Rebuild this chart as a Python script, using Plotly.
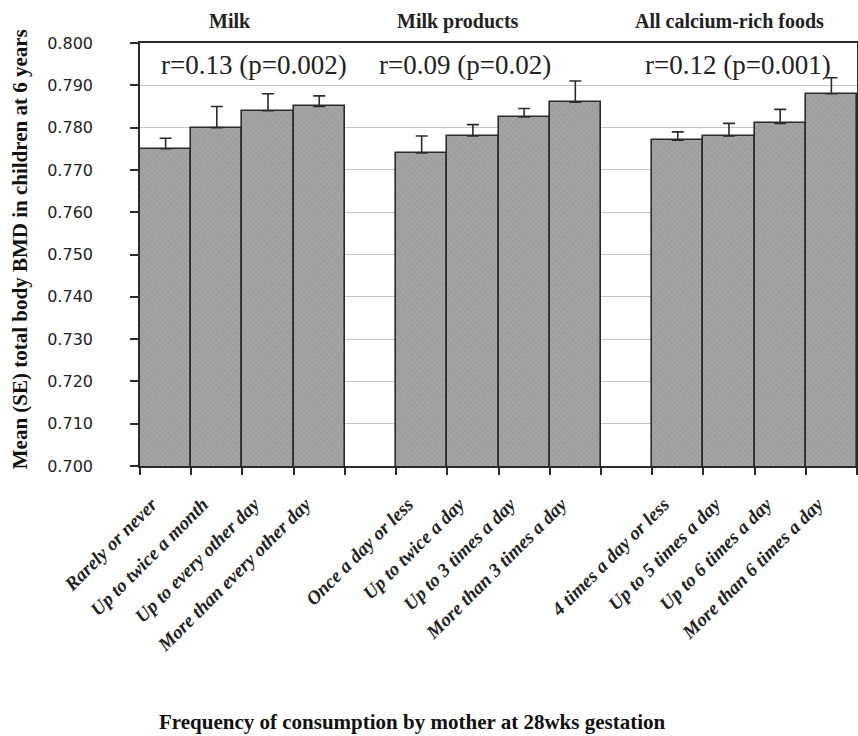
import plotly.graph_objects as go

# ---- data ----
milk_labels = ["Rarely or never", "Up to twice a month", "Up to every other day", "More than every other day"]
milk_means = [0.775, 0.780, 0.784, 0.785]
milk_se = [0.0025, 0.005, 0.004, 0.0025]

prod_labels = ["Once a day or less", "Up to twice a day", "Up to 3 times a day", "More than 3 times a day"]
prod_means = [0.774, 0.778, 0.7825, 0.786]
prod_se = [0.004, 0.0027, 0.002, 0.005]

calc_labels = ["4 times a day or less", "Up to 5 times a day", "Up to 6 times a day", "More than 6 times a day"]
calc_means = [0.777, 0.778, 0.781, 0.788]
calc_se = [0.002, 0.003, 0.0033, 0.0038]

group_titles = ["Milk", "Milk products", "All calcium-rich foods"]
r_texts = ["r=0.13 (p=0.002)", "r=0.09 (p=0.02)", "r=0.12 (p=0.001)"]

y_ticks = [0.700, 0.710, 0.720, 0.730, 0.740, 0.750, 0.760, 0.770, 0.780, 0.790, 0.800]

# blank spacer categories between groups
x_cats = milk_labels + [" "] + prod_labels + ["  "] + calc_labels
y_vals = milk_means + [None] + prod_means + [None] + calc_means
err_vals = milk_se + [None] + prod_se + [None] + calc_se

SERIF = "Liberation Serif"

fig = go.Figure()
fig.add_trace(go.Bar(
    x=x_cats, y=y_vals,
    marker=dict(
        color="#9c9c9c",
        line=dict(color="#2a2a2a", width=1.6),
        pattern=dict(shape="x", fgcolor="#7d7d7d", bgcolor="#a4a4a4", size=4, solidity=0.25),
    ),
    error_y=dict(type="data", symmetric=False, array=err_vals,
                 arrayminus=[0 if v is not None else None for v in err_vals],
                 color="#2a2a2a", thickness=1.6, width=6),
    showlegend=False,
    hoverinfo="skip",
))

fig.update_layout(
    width=858, height=736,
    margin=dict(l=140, r=1, t=43, b=270),
    paper_bgcolor="white", plot_bgcolor="white",
    bargap=0,
    xaxis=dict(
        type="category", categoryorder="array", categoryarray=x_cats,
        tickson="boundaries", ticks="outside", ticklen=7, tickcolor="#2a2a2a", tickwidth=1.5,
        tickangle=-45, ticklabelstandoff=18, ticklabelshift=-14,
        tickfont=dict(family=SERIF, size=19, color="#222", style="italic", weight="bold"),
        showline=True, linecolor="#2a2a2a", linewidth=1.6, mirror=True,
        showgrid=False, automargin=False,
    ),
    yaxis=dict(
        range=[0.700, 0.800], tickvals=y_ticks, tickformat=".3f",
        ticks="outside", ticklen=8, tickcolor="#2a2a2a", tickwidth=1.5,
        ticklabelstandoff=34,
        tickfont=dict(family="DejaVu Sans", size=16, color="#222"),
        showline=True, linecolor="#2a2a2a", linewidth=1.6, mirror=True,
        showgrid=True, gridcolor="#c4c4c4", gridwidth=1,
        zeroline=False, automargin=False,
    ),
)

# group titles above the plot
title_pos = [1.26, 5.71, 11.02]
for t, xp in zip(group_titles, title_pos):
    fig.add_annotation(text=t, x=xp, xref="x", y=1.052, yref="paper", showarrow=False,
                       xanchor="center", yanchor="middle",
                       font=dict(family=SERIF, size=20, color="#222", weight="bold"))

# correlation text
r_pos = [1.73, 5.85, 11.18]
for t, xp in zip(r_texts, r_pos):
    fig.add_annotation(text=t, x=xp, xref="x", y=0.947, yref="paper", showarrow=False,
                       xanchor="center", yanchor="middle",
                       font=dict(family=SERIF, size=27, color="#222"))

# axis titles
fig.add_annotation(text="Frequency of consumption by mother at 28wks gestation",
                   x=0.379, xref="paper", y=-0.605, yref="paper", showarrow=False,
                   xanchor="center", yanchor="middle",
                   font=dict(family=SERIF, size=21, color="#111", weight="bold"))
fig.add_annotation(text="Mean (SE) total body BMD in children at 6 years",
                   x=-0.167, xref="paper", y=0.513, yref="paper", showarrow=False, textangle=-90,
                   xanchor="center", yanchor="middle",
                   font=dict(family=SERIF, size=21, color="#111", weight="bold"))

fig.write_html("out.html", config={"displayModeBar": False},
               post_script="document.body.style.margin='0';document.body.style.overflow='hidden';")
